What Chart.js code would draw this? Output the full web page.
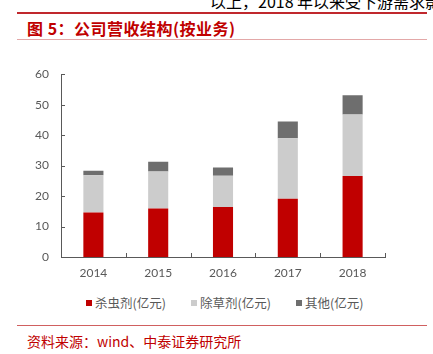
<!DOCTYPE html>
<html>
<head>
<meta charset="utf-8">
<script src="https://cdn.jsdelivr.net/npm/chart.js@4/dist/chart.umd.min.js"></script>
<style>
  body { margin: 0; width: 433px; height: 354px; background: #fff; position: relative; overflow: hidden;
         font-family: "Noto Sans CJK SC", sans-serif; }
  .top { position: absolute; left: 210px; top: -11px; font-size: 16px; color: #000; white-space: nowrap; }
  .line1 { position: absolute; left: 17px; width: 410px; top: 12px; height: 2px; background: #c0282d; }
  .title { position: absolute; left: 27px; top: 16px; font-size: 16px; font-weight: bold; color: #c00000; white-space: nowrap; letter-spacing: 0.5px; }
  .line2 { position: absolute; left: 17px; width: 410px; top: 39px; height: 1px; background: #e3a8a8; }
  .line3 { position: absolute; left: 17px; width: 410px; top: 325px; height: 1px; background: #d06060; }
  .source { position: absolute; left: 27px; top: 331px; font-size: 14px; color: #c00000; white-space: nowrap; }
  #wrap { position: absolute; left: 0; top: 55px; width: 433px; height: 232px; }
  #legend { position: absolute; left: 86px; top: 293px; display: flex; }
  #legend .item { width: 105px; display: flex; align-items: center; font-size: 12.5px; color: #595959; white-space: nowrap; }
  #legend .box { width: 6px; height: 6px; margin-right: 3px; }
</style>
</head>
<body>
<div class="top">以上，2018 年以来受下游需求影</div>
<div class="line1"></div>
<div class="title">图 5：公司营收结构(按业务)</div>
<div class="line2"></div>
<div id="wrap"><canvas id="revChart"></canvas></div>
<div id="legend"></div>
<div class="line3"></div>
<div class="source">资料来源：wind、中泰证券研究所</div>
<script>
const years = ['2014', '2015', '2016', '2017', '2018'];
const insecticide = [14.6, 15.9, 16.4, 19.1, 26.6]; // 杀虫剂
const herbicide = [12.2, 12.2, 10.3, 19.9, 20.2];   // 除草剂
const others = [1.5, 3.2, 2.7, 5.5, 6.3];           // 其他
const yTicks = [0, 10, 20, 30, 40, 50, 60];

// 坐标轴内侧的小刻度线
const innerTicks = {
  id: 'innerTicks',
  afterDraw(chart) {
    const c = chart.ctx;
    const x = chart.scales.x, y = chart.scales.y;
    c.save();
    c.strokeStyle = '#595959';
    c.lineWidth = 1;
    c.beginPath();
    yTicks.forEach(v => {
      const py = Math.round(y.getPixelForValue(v)) + 0.5;
      c.moveTo(x.left, py);
      c.lineTo(x.left + 4, py);
    });
    for (let i = 0; i <= years.length; i++) {
      const px = Math.round(x.getPixelForValue(i - 0.5)) + 0.5;
      c.moveTo(px, y.bottom);
      c.lineTo(px, y.bottom - 4);
    }
    c.stroke();
    c.restore();
  }
};

const ctx = document.getElementById('revChart').getContext('2d');
const revChart = new Chart(ctx, {
  type: 'bar',
  data: {
    labels: years,
    datasets: [
      { label: '杀虫剂(亿元)', data: insecticide, backgroundColor: '#c00000' },
      { label: '除草剂(亿元)', data: herbicide, backgroundColor: '#cccccc' },
      { label: '其他(亿元)', data: others, backgroundColor: '#6e6e6e' }
    ]
  },
  options: {
    responsive: true,
    maintainAspectRatio: false,
    animation: false,
    categoryPercentage: 1,
    barPercentage: 0.31,
    layout: { padding: { top: 19, right: 48, left: 0, bottom: 0 } },
    plugins: {
      tooltip: { enabled: false },
      legend: { display: false }
    },
    scales: {
      x: {
        stacked: true,
        grid: { display: false, drawTicks: false },
        border: { color: '#595959' },
        ticks: { color: '#595959', padding: 9, font: { family: 'Lato', size: 12 } },
        afterFit(s) { s.height = 30; }
      },
      y: {
        stacked: true,
        min: 0, max: 60,
        grid: { display: false, drawTicks: false },
        border: { color: '#595959' },
        ticks: { stepSize: 10, color: '#595959', padding: 12, font: { family: 'Lato', size: 12 } },
        afterFit(s) { s.width = 61; }
      }
    }
  },
  plugins: [innerTicks]
});

// 图例（按数据集生成）
const legendEl = document.getElementById('legend');
revChart.data.datasets.forEach(ds => {
  const item = document.createElement('div');
  item.className = 'item';
  const box = document.createElement('span');
  box.className = 'box';
  box.style.background = ds.backgroundColor;
  item.appendChild(box);
  item.appendChild(document.createTextNode(ds.label));
  legendEl.appendChild(item);
});
</script>
</body>
</html>
